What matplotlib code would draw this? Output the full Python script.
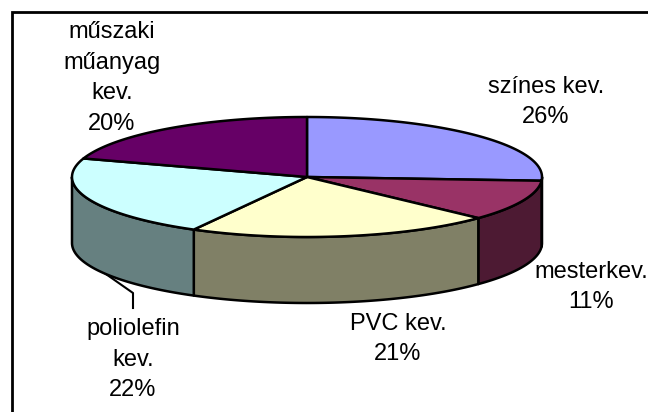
import numpy as np
import matplotlib
matplotlib.use("Agg")
import matplotlib.pyplot as plt
from matplotlib.patches import Polygon, Rectangle

plt.rcParams['font.family'] = ['Liberation Sans', 'DejaVu Sans']

labels = ["színes kev.", "mesterkev.", "PVC kev.", "poliolefin\nkev.", "műszaki\nműanyag\nkev."]
values = [26, 11, 21, 22, 20]
top_colors = ["#9999FF", "#993366", "#FFFFCC", "#CCFFFF", "#660066"]
side_colors = ["#4D4D80", "#4D1A33", "#808066", "#668080", "#330033"]

# layout, in pixels of the 648x412 picture
cx, cy = 307, 177
rx, ry = 235, 60
depth = 66
label_x = [546, 591, 398, 133, 112]
label_y = [102, 287, 339, 360, 78]


def edge(deg):
    # deg runs clockwise from 12 o'clock
    t = np.radians(deg)
    return cx + rx * np.sin(t), cy - ry * np.cos(t)


fig = plt.figure(figsize=(6.48, 4.12), dpi=100)
ax = fig.add_axes([0, 0, 1, 1])
ax.set_xlim(0, 648)
ax.set_ylim(412, 0)
ax.axis("off")

ax.add_patch(Rectangle((12, 12), 700, 500, fc="white", ec="black", lw=2))

stops = np.cumsum([0] + values) * 3.6

# walls first, only the front half of the pie shows one
for i in range(len(values)):
    a = max(stops[i], 90)
    b = min(stops[i + 1], 270)
    if b <= a:
        continue
    x, y = edge(np.linspace(a, b, 80))
    xs = np.concatenate([x, x[::-1]])
    ys = np.concatenate([y, y[::-1] + depth])
    ax.add_patch(Polygon(np.column_stack([xs, ys]), closed=True,
                         fc=side_colors[i], ec="black", lw=1.8, joinstyle="round", zorder=2))

for i in range(len(values)):
    x, y = edge(np.linspace(stops[i], stops[i + 1], 120))
    pts = np.column_stack([np.r_[cx, x], np.r_[cy, y]])
    ax.add_patch(Polygon(pts, closed=True, fc=top_colors[i], ec="black",
                         lw=1.8, joinstyle="round", zorder=3))

# leader line of the poliolefin label
ax.plot([103, 133, 133], [272, 293, 308], color="black", lw=1.5, zorder=1)

for name, v, lx, ly in zip(labels, values, label_x, label_y):
    ax.text(lx, ly, f"{name}\n{v}%", ha="center", va="center",
            fontsize=17, linespacing=1.5, color="black", zorder=4)

fig.savefig("out.png", dpi=100)
